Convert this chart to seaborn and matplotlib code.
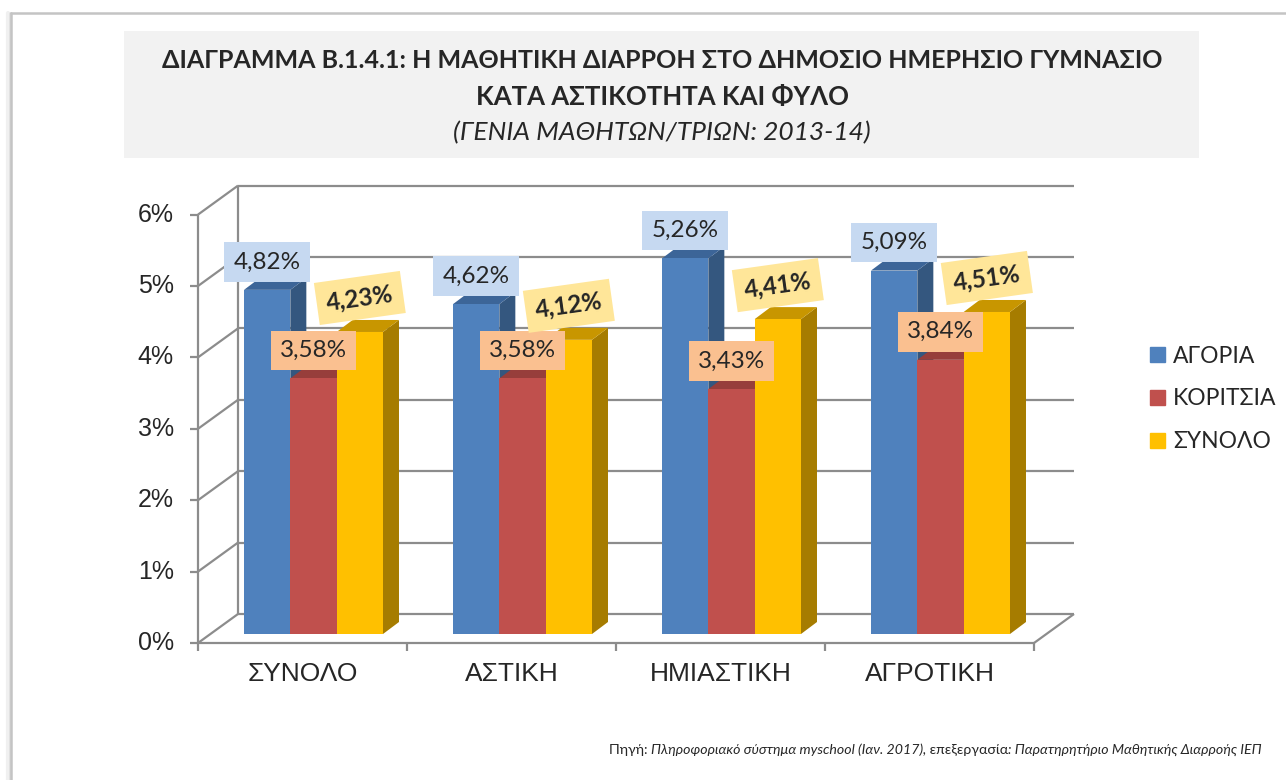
import matplotlib
matplotlib.use("Agg")
import matplotlib.pyplot as plt
import seaborn as sns
import pandas as pd
from matplotlib.patches import Polygon, Rectangle, Patch
from matplotlib.lines import Line2D

# data
categories = ["ΣΥΝΟΛΟ", "ΑΣΤΙΚΗ", "ΗΜΙΑΣΤΙΚΗ", "ΑΓΡΟΤΙΚΗ"]
series = ["ΑΓΟΡΙΑ", "ΚΟΡΙΤΣΙΑ", "ΣΥΝΟΛΟ"]
boys = [4.82, 4.62, 5.26, 5.09]
girls = [3.58, 3.58, 3.43, 3.84]
total = [4.23, 4.12, 4.41, 4.51]
y_ticks = [0, 1, 2, 3, 4, 5, 6]

title_lines = [
    "ΔΙΑΓΡΑΜΜΑ Β.1.4.1: Η ΜΑΘΗΤΙΚΗ ΔΙΑΡΡΟΗ ΣΤΟ ΔΗΜΟΣΙΟ ΗΜΕΡΗΣΙΟ ΓΥΜΝΑΣΙΟ",
    "ΚΑΤΑ ΑΣΤΙΚΟΤΗΤΑ ΚΑΙ ΦΥΛΟ",
    "(ΓΕΝΙΑ ΜΑΘΗΤΩΝ/ΤΡΙΩΝ: 2013-14)",
]
source_parts = [
    ("Πηγή: ", "normal"),
    ("Πληροφοριακό σύστημα myschool (Ιαν. 2017),", "italic"),
    (" επεξεργασία", "normal"),
    (": Παρατηρητήριο Μαθητικής Διαρροής ΙΕΠ", "italic"),
]

front_colors = ["#4F81BD", "#C0504D", "#FFC000"]
side_colors = ["#34577F", "#8C3A38", "#A67C00"]
top_colors = ["#3C6598", "#973E3B", "#C89600"]
label_bg = ["#C6D9F1", "#FAC090", "#FFE699"]
grid_col = "#8C8C8C"

CAL = ["Lato", "Open Sans", "DejaVu Sans"]
ARIAL = ["Liberation Sans", "DejaVu Sans"]

sns.set_style("white")
plt.rcParams["font.family"] = ARIAL

W, H = 1286, 780
fig = plt.figure(figsize=(W / 100, H / 100), dpi=100)


def fx(px):
    return px / W


def fy(py):
    return 1 - py / H


# axes = plane of the bar front faces
PX_X, PX_Y = 209.0, 71.4
ax = fig.add_axes([fx(209), fy(634), 4 * PX_X / W, 6 * PX_Y / H])

df = pd.DataFrame({
    "category": categories * 3,
    "series": [s for s in series for _ in categories],
    "value": boys + girls + total,
})
sns.barplot(data=df, x="category", y="value", hue="series", order=categories,
            hue_order=series, palette=front_colors, saturation=1, width=0.665,
            errorbar=None, linewidth=0, legend=False, ax=ax)
ax.set_xlim(-0.5, 3.5)
ax.set_ylim(0, 6)
ax.axis("off")

# 3d offsets (data units)
fo = (-11 / PX_X, -9 / PX_Y)   # front (axis) plane
bo = (29 / PX_X, 20 / PX_Y)    # back wall plane
bd = (16 / PX_X, 12 / PX_Y)    # bar depth


def line(xs, ys, **kw):
    ax.add_line(Line2D(xs, ys, color=grid_col, lw=1.6, clip_on=False,
                       zorder=1, solid_capstyle="butt", **kw))


for t in y_ticks:
    # back wall gridline
    line([-0.5 + bo[0], 3.5 + bo[0]], [t + bo[1], t + bo[1]])
    # left wall diagonal
    line([-0.5 + fo[0], -0.5 + bo[0]], [t + fo[1], t + bo[1]])
    # small tick
    line([-0.5 + fo[0] - 8 / PX_X, -0.5 + fo[0]], [t + fo[1], t + fo[1]])
    ax.text(-0.5 + fo[0] - 24 / PX_X, t + fo[1], f"{t}%", ha="right",
            va="center", fontsize=18, family=ARIAL)

line([-0.5 + fo[0], -0.5 + fo[0]], [fo[1], 6 + fo[1]])
line([-0.5 + bo[0], -0.5 + bo[0]], [bo[1], 6 + bo[1]])
line([-0.5 + fo[0], 3.5 + fo[0]], [fo[1], fo[1]])
line([3.5 + fo[0], 3.5 + bo[0]], [fo[1], bo[1]])
for i in range(len(categories) + 1):
    line([i - 0.5 + fo[0]] * 2, [fo[1], fo[1] - 8 / PX_Y])
for i, c in enumerate(categories):
    ax.text(i + fo[0], fo[1] - 31 / PX_Y, c, ha="center", va="center",
            fontsize=19, family=ARIAL)

# side / top faces and labels
bars = sorted(ax.patches, key=lambda p: p.get_x())
for n, p in enumerate(bars):
    k = n % 3
    x0, w, h = p.get_x(), p.get_width(), p.get_height()
    x1 = x0 + w
    z = 2 + n * 0.1
    p.set_zorder(z + 0.05)
    ax.add_patch(Polygon([(x1, 0), (x1 + bd[0], bd[1]), (x1 + bd[0], h + bd[1]), (x1, h)],
                         closed=True, facecolor=side_colors[k], edgecolor="none",
                         zorder=z, clip_on=False))
    ax.add_patch(Polygon([(x0, h), (x1, h), (x1 + bd[0], h + bd[1]), (x0 + bd[0], h + bd[1])],
                         closed=True, facecolor=top_colors[k], edgecolor="none",
                         zorder=z, clip_on=False))
    txt = f"{h:.2f}".replace(".", ",") + "%"
    if k == 2:
        ax.annotate(txt, (x0 + w / 2, h), xytext=(0, 34), textcoords="offset pixels",
                    ha="center", va="center", fontsize=17.5, fontweight="bold",
                    rotation=8, family=CAL, zorder=10, annotation_clip=False,
                    bbox=dict(boxstyle="square,pad=0.4", fc=label_bg[k], ec="none"))
    else:
        ax.annotate(txt, (x0 + w / 2, h), xytext=(0, 28), textcoords="offset pixels",
                    ha="center", va="center", fontsize=17.5, family=CAL, zorder=10,
                    annotation_clip=False,
                    bbox=dict(boxstyle="square,pad=0.38", fc=label_bg[k], ec="none"))

# legend
fig.legend(handles=[Patch(color=c) for c in front_colors], labels=series,
           loc="center left", bbox_to_anchor=(fx(1150), fy(399)), frameon=False,
           prop=dict(family=CAL, size=16.5), handlelength=0.66, handleheight=0.66,
           handletextpad=0.35, labelspacing=0.95, borderpad=0, borderaxespad=0)

# title box and title
fig.patches.append(Rectangle((fx(124), fy(158)), (1199 - 124) / W, (158 - 31) / H,
                             transform=fig.transFigure, facecolor="#F2F2F2",
                             edgecolor="none", zorder=0))
fig.text(fx(662), fy(60), title_lines[0], ha="center", va="center", fontsize=18,
         fontweight="bold", family=CAL)
fig.text(fx(662), fy(97), title_lines[1], ha="center", va="center", fontsize=18.5,
         fontweight="bold", family=CAL)
fig.text(fx(662), fy(133), title_lines[2], ha="center", va="center", fontsize=19,
         style="italic", family=CAL)

# source note, chained right to left from the right margin
prev = None
for s, st in reversed(source_parts):
    if prev is None:
        prev = ax.annotate(s, (fx(1262), fy(756)), xycoords="figure fraction",
                           ha="right", va="bottom", fontsize=10.2, family=CAL,
                           style=st, annotation_clip=False)
    else:
        prev = ax.annotate(s, (0, 0), xycoords=prev, ha="right", va="bottom",
                           fontsize=10.2, family=CAL, style=st, annotation_clip=False)

# outer frame
for off, col, lw in [(-3, "#F0F0F0", 3), (-1.5, "#E0E0E0", 2)]:
    fig.add_artist(Line2D([fx(11 + off), fx(11 + off)], [fy(13), 0], color=col, lw=lw))
fig.add_artist(Line2D([fx(11), 1], [fy(13), fy(13)], color="#C4C4C4", lw=1.8))
fig.add_artist(Line2D([fx(11), fx(11)], [fy(13), 0], color="#C4C4C4", lw=1.8))

fig.savefig("out.png", dpi=100)
